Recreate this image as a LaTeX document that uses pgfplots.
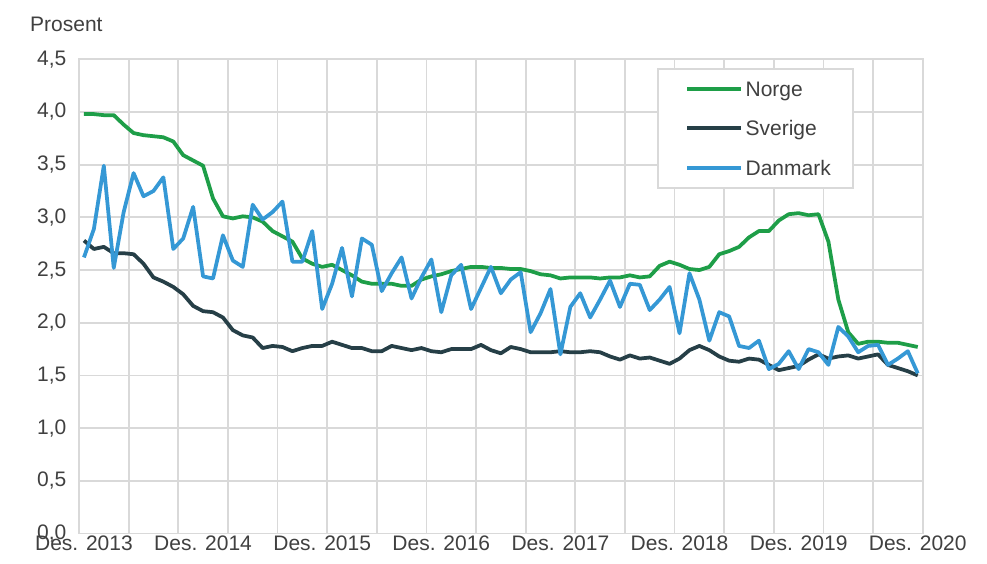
\documentclass[border=0pt]{standalone}
\usepackage{fontspec}
\setmainfont{Liberation Sans}
\usepackage{pgfplots}
\pgfplotsset{compat=1.18}
\usepackage{pgfplotstable}
\definecolor{norge}{HTML}{1E9E48}
\definecolor{sverige}{HTML}{263F47}
\definecolor{danmark}{HTML}{3598D5}
\definecolor{gridgray}{HTML}{D9D9D9}
\definecolor{textgray}{HTML}{404040}
\newcommand{\chartfont}{\fontsize{21}{25}\selectfont}

\pgfplotstableread{
i N S D
0 3.98 2.78 2.62
1 3.98 2.70 2.89
2 3.97 2.72 3.49
3 3.97 2.66 2.52
4 3.88 2.66 3.05
5 3.80 2.65 3.42
6 3.78 2.56 3.20
7 3.77 2.43 3.25
8 3.76 2.39 3.38
9 3.72 2.34 2.70
10 3.59 2.27 2.80
11 3.54 2.16 3.10
12 3.49 2.11 2.44
13 3.18 2.10 2.42
14 3.01 2.05 2.83
15 2.99 1.93 2.59
16 3.01 1.88 2.53
17 3.00 1.86 3.12
18 2.96 1.76 2.98
19 2.87 1.78 3.05
20 2.82 1.77 3.15
21 2.77 1.73 2.58
22 2.61 1.76 2.58
23 2.56 1.78 2.87
24 2.53 1.78 2.13
25 2.55 1.82 2.37
26 2.50 1.79 2.71
27 2.45 1.76 2.25
28 2.39 1.76 2.80
29 2.37 1.73 2.74
30 2.37 1.73 2.30
31 2.37 1.78 2.47
32 2.35 1.76 2.62
33 2.35 1.74 2.23
34 2.41 1.76 2.43
35 2.44 1.73 2.60
36 2.46 1.72 2.10
37 2.49 1.75 2.45
38 2.51 1.75 2.55
39 2.53 1.75 2.13
40 2.53 1.79 2.33
41 2.52 1.74 2.53
42 2.52 1.71 2.28
43 2.51 1.77 2.41
44 2.51 1.75 2.48
45 2.49 1.72 1.91
46 2.46 1.72 2.09
47 2.45 1.72 2.32
48 2.42 1.73 1.70
49 2.43 1.72 2.15
50 2.43 1.72 2.28
51 2.43 1.73 2.05
52 2.42 1.72 2.22
53 2.43 1.68 2.40
54 2.43 1.65 2.15
55 2.45 1.69 2.37
56 2.43 1.66 2.36
57 2.44 1.67 2.12
58 2.54 1.64 2.22
59 2.58 1.61 2.34
60 2.55 1.66 1.90
61 2.51 1.74 2.47
62 2.50 1.78 2.22
63 2.53 1.74 1.83
64 2.65 1.68 2.10
65 2.68 1.64 2.06
66 2.72 1.63 1.78
67 2.81 1.66 1.76
68 2.87 1.65 1.83
69 2.87 1.60 1.56
70 2.97 1.55 1.61
71 3.03 1.57 1.73
72 3.04 1.59 1.56
73 3.02 1.65 1.75
74 3.03 1.70 1.72
75 2.77 1.66 1.60
76 2.22 1.68 1.96
77 1.91 1.69 1.87
78 1.80 1.66 1.72
79 1.82 1.68 1.78
80 1.82 1.70 1.79
81 1.81 1.60 1.60
82 1.81 1.57 1.66
83 1.79 1.54 1.73
84 1.77 1.50 1.52
}\data

\begin{document}
\begin{tikzpicture}
\begin{axis}[
  at={(0pt,0pt)}, anchor=south west,
  scale only axis, width=843.7pt, height=474.2pt,
  xmin=-0.5, xmax=84.5, ymin=0, ymax=4.5,
  xtick={0,12,24,36,48,60,72,84},
  xticklabels={Des. 2013,Des. 2014,Des. 2015,Des. 2016,Des. 2017,Des. 2018,Des. 2019,Des. 2020},
  minor xtick={-0.5,4.5,...,84.5},
  ytick={0,0.5,1,1.5,2,2.5,3,3.5,4,4.5},
  major tick length=0pt, minor tick length=0pt,
  xmajorgrids=false, xminorgrids=true, ymajorgrids=true,
  grid style={gridgray, line width=1.8pt},
  minor grid style={gridgray, line width=1.8pt},
  axis line style={gridgray, line width=1.8pt},
  tick label style={font=\chartfont, text=textgray},
  xticklabel style={anchor=north, inner sep=0pt, yshift=-2.5pt},
  yticklabel style={anchor=east, inner sep=0pt, xshift=-12.5pt,
    /pgf/number format/.cd, fixed, fixed zerofill, precision=1, use comma},
  /pgf/number format/assume math mode=true,
  legend cell align=left,
  legend style={at={(0.685,0.982)}, anchor=north west, draw=gridgray, line width=1.8pt,
    fill=white, font=\chartfont, text=textgray, inner xsep=19.5pt, inner ysep=12.5pt,
    row sep=24.5pt,
    nodes={inner xsep=2.5pt, inner ysep=0pt, text height=15pt, text depth=0pt}},
  legend image code/.code={\path (-8pt,0pt); \draw[#1] (0pt,0pt) -- (54pt,0pt);},
]
\addplot[norge, line width=3.75pt, line join=round, no markers] table[x=i, y=N] {\data};
\addlegendentry{Norge}
\addplot[sverige, line width=3.75pt, line join=round, no markers] table[x=i, y=S] {\data};
\addlegendentry{Sverige}
\addplot[danmark, line width=3.75pt, line join=round, no markers] table[x=i, y=D] {\data};
\addlegendentry{Danmark}
\end{axis}
\node[anchor=base west, inner sep=0pt, font=\chartfont, text=textgray] at (-49pt,501.5pt) {Prosent};
\pgfresetboundingbox
\path (-79pt,-29.5pt) rectangle (908pt,533.5pt);
\end{tikzpicture}
\end{document}
